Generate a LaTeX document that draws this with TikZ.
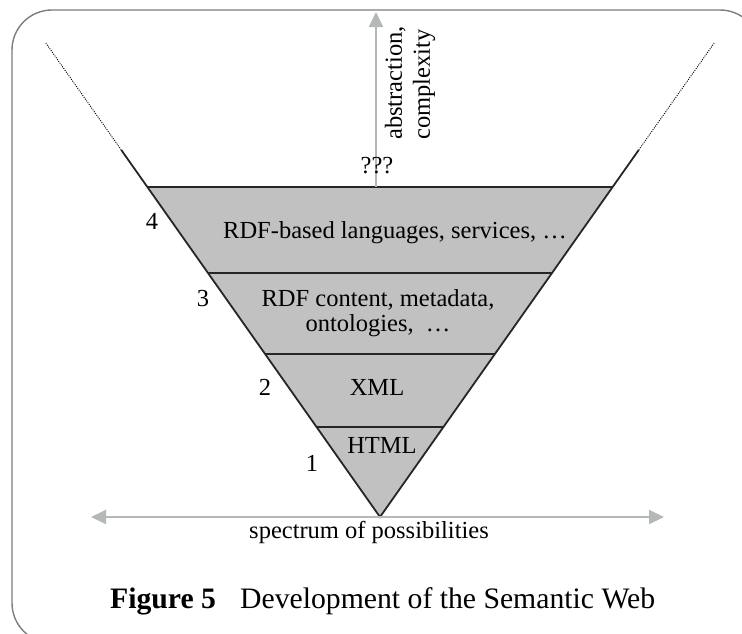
\documentclass[tikz,border=0pt]{standalone}
\usepackage{fontspec}
\setmainfont{Liberation Serif}
\usetikzlibrary{arrows.meta}
\definecolor{layergray}{RGB}{193,193,193}
\definecolor{arrowgray}{RGB}{180,184,184}
\definecolor{framegray}{RGB}{125,125,125}
\tikzset{
  framebox/.style={draw=framegray, line width=1.4pt, rounded corners=40pt},
  edgeline/.style={draw=black!85, line width=1.8pt},
  sepline/.style={draw=black!85, line width=1.8pt},
  dotline/.style={draw=black, line width=0.9pt, dash pattern=on 1pt off 1.2pt},
  axisarrow/.style={draw=arrowgray, line width=2pt, -{Triangle[length=15pt,width=14pt]}},
  axisboth/.style={draw=arrowgray, line width=2pt, {Triangle[length=15pt,width=14pt]}-{Triangle[length=15pt,width=14pt]}},
  lbl/.style={inner sep=0pt, font=\fontsize{24.5}{28.2}\selectfont},
  caplbl/.style={inner sep=0pt, font=\fontsize{29.7}{34}\selectfont}
}
\begin{document}
\begin{tikzpicture}[x=1pt,y=-1pt]
\useasboundingbox (0,0) rectangle (742,633);
\clip (0,0) rectangle (742,633);
% frame
\draw[framebox] (12,10) rectangle (760,643);
% key points
\coordinate (apex) at (380,517);
\coordinate (L4) at (147.4,187); \coordinate (R4) at (612.6,187);
\coordinate (L3) at (208,273);   \coordinate (R3) at (552,273);
\coordinate (L2) at (265.1,354); \coordinate (R2) at (494.9,354);
\coordinate (L1) at (316.6,427); \coordinate (R1) at (443.4,427);
\coordinate (Ls) at (121.3,150); \coordinate (Rs) at (638.7,150);
\coordinate (Ld) at (45.8,43);   \coordinate (Rd) at (714.2,43);
% filled funnel
\fill[layergray] (L4) -- (R4) -- (apex) -- cycle;
% separators
\draw[sepline] (L4) -- (R4);
\draw[sepline] (L3) -- (R3);
\draw[sepline] (L2) -- (R2);
\draw[sepline] (L1) -- (R1);
% sides
\draw[edgeline] (Ls) -- (apex) -- (Rs);
\draw[dotline] (Ld) -- (Ls);
\draw[dotline] (Rd) -- (Rs);
% axes
\coordinate (vbot) at (376,187);
\coordinate (vtop) at (376,12);
\draw[axisarrow] (vbot) -- (vtop);
\coordinate (hl) at (91,517);
\coordinate (hr) at (664,517);
\draw[axisboth] (hl) -- (hr);
% labels
\node[lbl, rotate=90, align=left] (axislbl) at (410,83) {abstraction,\\complexity};
\node[lbl, anchor=base] (q) at (377,173) {???};
\node[lbl, anchor=base] (t4) at (395,238) {RDF-based languages, services, …};
\node[lbl, anchor=base] (t3a) at (378,306) {RDF content, metadata,};
\node[lbl, anchor=base] (t3b) at (378,331) {ontologies,\ \ …};
\node[lbl, anchor=base] (t2) at (377,395) {XML};
\node[lbl, anchor=base] (t1) at (382,453) {HTML};
\node[lbl, anchor=base] (n4) at (152,229) {4};
\node[lbl, anchor=base] (n3) at (203,306) {3};
\node[lbl, anchor=base] (n2) at (265,395) {2};
\node[lbl, anchor=base] (n1) at (312,471) {1};
\node[lbl, anchor=base] (spec) at (369,538) {spectrum of possibilities};
\node[caplbl, anchor=base west] (cap1) at (110,608) {\bfseries Figure 5};
\node[caplbl, anchor=base west] (cap2) at (240,608) {Development of the Semantic Web};
\end{tikzpicture}
\end{document}
